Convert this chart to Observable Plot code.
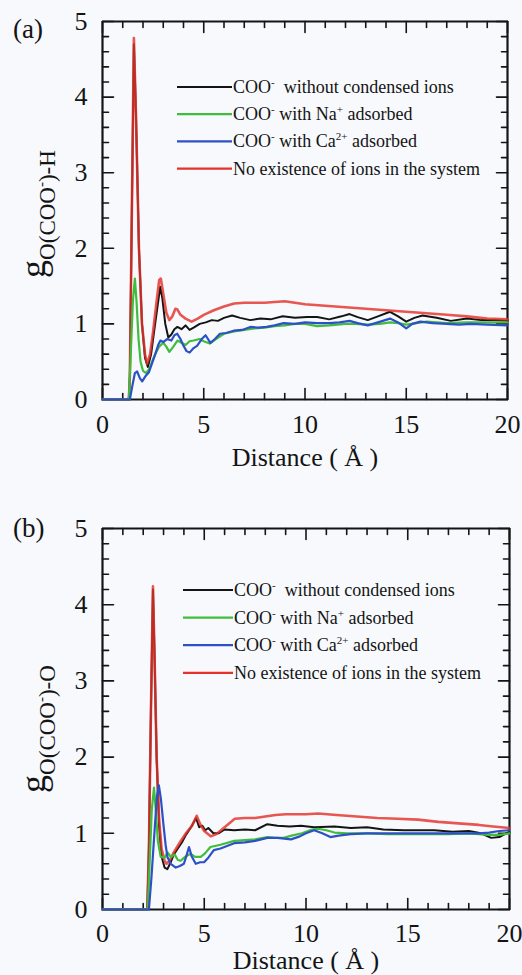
<!DOCTYPE html>
<html>
<head>
<meta charset="utf-8">
<script src="https://cdn.jsdelivr.net/npm/d3@7"></script>
<script src="https://cdn.jsdelivr.net/npm/@observablehq/plot@0.6"></script>
<style>
  html, body { margin: 0; padding: 0; background: #f7f9fc; overflow: hidden; }
  #chart svg { display: block; }
</style>
</head>
<body>
<div id="chart"></div>
<script>
// Radial distribution functions g(r) around carboxylate oxygen, r in Å.

// ---- Panel (a): O(COO-)–H ----
const aNoIons = [[0,0],[1.3,0],[1.35,0.3],[1.45,2.5],[1.55,4.78],[1.65,3.8],[1.8,2.0],[1.95,1.0],[2.1,0.6],[2.2,0.47],[2.35,0.6],[2.5,0.9],[2.65,1.25],[2.8,1.58],[2.88,1.6],[3.0,1.4],[3.15,1.15],[3.3,1.05],[3.45,1.1],[3.6,1.2],[3.7,1.19],[3.85,1.12],[4.1,1.07],[4.4,1.03],[4.7,1.07],[5.0,1.12],[5.5,1.18],[6.0,1.23],[6.5,1.27],[7.0,1.28],[7.5,1.28],[8.0,1.28],[8.5,1.29],[9.0,1.3],[9.5,1.28],[10,1.26],[11,1.24],[12,1.22],[13,1.2],[14,1.18],[15,1.16],[16,1.14],[17,1.12],[18,1.1],[19,1.07],[20,1.06]];
const aNoCondensed = [[0,0],[1.3,0],[1.35,0.3],[1.45,2.5],[1.55,4.7],[1.65,3.8],[1.8,2.0],[1.95,1.0],[2.1,0.55],[2.24,0.43],[2.4,0.6],[2.55,0.9],[2.7,1.2],[2.85,1.49],[2.95,1.35],[3.1,1.0],[3.25,0.82],[3.4,0.86],[3.55,0.93],[3.7,0.96],[3.9,0.93],[4.1,0.98],[4.3,0.92],[4.5,0.95],[4.8,1.0],[5.1,1.02],[5.4,1.05],[5.7,1.04],[6.0,1.08],[6.4,1.11],[6.8,1.08],[7.3,1.05],[7.8,1.07],[8.3,1.06],[8.9,1.1],[9.5,1.08],[10.1,1.09],[10.6,1.09],[11.2,1.06],[11.8,1.1],[12.2,1.13],[12.6,1.09],[13.1,1.05],[13.6,1.1],[14.2,1.16],[14.6,1.1],[15.0,1.03],[15.4,1.08],[15.8,1.11],[16.5,1.08],[17.2,1.04],[18.0,1.07],[18.7,1.05],[19.4,1.05],[20,1.04]];
const aNa = [[0,0],[1.3,0],[1.38,0.5],[1.5,1.3],[1.6,1.6],[1.68,1.3],[1.78,0.8],[1.88,0.5],[2.0,0.38],[2.15,0.35],[2.3,0.4],[2.45,0.5],[2.6,0.6],[2.8,0.7],[3.0,0.75],[3.15,0.7],[3.3,0.63],[3.5,0.7],[3.7,0.78],[3.9,0.75],[4.1,0.72],[4.3,0.77],[4.5,0.78],[4.8,0.8],[5.0,0.77],[5.3,0.74],[5.6,0.8],[6.0,0.87],[6.5,0.9],[7.0,0.92],[7.5,0.94],[8.0,0.95],[8.5,0.97],[9.0,0.98],[9.5,1.0],[10.0,1.0],[10.6,0.97],[11.2,0.98],[12,1.0],[12.5,1.0],[13.1,0.99],[13.7,1.0],[14.2,1.02],[14.6,1.01],[15.0,0.99],[15.5,1.01],[16,1.03],[17,1.01],[18,1.02],[19,1.02],[20,1.02]];
const aCa = [[0,0],[1.35,0],[1.46,0.16],[1.6,0.35],[1.71,0.37],[1.85,0.28],[1.96,0.24],[2.1,0.3],[2.29,0.36],[2.45,0.48],[2.62,0.61],[2.75,0.72],[2.86,0.78],[3.0,0.76],[3.19,0.8],[3.4,0.78],[3.55,0.85],[3.69,0.87],[3.85,0.8],[4.0,0.71],[4.15,0.64],[4.3,0.62],[4.5,0.68],[4.67,0.71],[4.9,0.8],[5.09,0.85],[5.33,0.75],[5.55,0.8],[5.8,0.87],[6.1,0.88],[6.48,0.91],[6.9,0.92],[7.3,0.96],[7.7,0.95],[8.1,0.96],[8.5,0.98],[8.95,1.01],[9.5,1.0],[10.0,1.02],[10.6,1.01],[11.2,1.01],[11.7,1.02],[12.2,1.04],[12.6,1.01],[13.1,0.98],[13.6,1.02],[14.2,1.07],[14.6,1.02],[15.0,0.94],[15.3,1.0],[15.7,1.03],[16.3,1.01],[17.0,1.0],[17.6,0.99],[18.2,1.0],[19,0.99],[20,0.98]];

// ---- Panel (b): O(COO-)–O ----
const bNoIons = [[0,0],[2.2,0],[2.28,0.8],[2.38,2.6],[2.48,4.24],[2.56,3.3],[2.66,2.0],[2.78,1.2],[2.9,0.8],[3.05,0.64],[3.15,0.6],[3.3,0.64],[3.5,0.75],[3.8,0.88],[4.1,1.0],[4.4,1.1],[4.63,1.23],[4.8,1.12],[5.0,1.03],[5.32,0.96],[5.6,0.99],[6.0,1.08],[6.5,1.19],[7.0,1.2],[7.5,1.2],[8.0,1.22],[8.5,1.24],[9.0,1.25],[10.0,1.25],[10.6,1.26],[11.5,1.24],[12.5,1.22],[13.5,1.2],[14.5,1.19],[15.5,1.18],[16.5,1.15],[17.5,1.13],[18.5,1.11],[19.2,1.09],[20,1.07]];
const bNoCondensed = [[0,0],[2.2,0],[2.28,0.8],[2.38,2.6],[2.48,4.2],[2.56,3.3],[2.66,2.0],[2.78,1.1],[2.9,0.7],[3.05,0.55],[3.19,0.53],[3.35,0.62],[3.5,0.72],[3.7,0.8],[3.9,0.88],[4.1,0.98],[4.35,1.08],[4.6,1.2],[4.75,1.08],[4.9,1.1],[5.05,1.04],[5.2,1.07],[5.45,1.0],[5.7,1.0],[6.0,1.05],[6.47,1.04],[7.0,1.05],[7.5,1.04],[8.1,1.12],[8.6,1.1],[9.2,1.09],[9.75,1.1],[10.4,1.08],[11.4,1.09],[12.2,1.07],[13.0,1.08],[13.8,1.05],[14.8,1.04],[15.6,1.04],[16.3,1.04],[17.2,1.02],[18.0,1.03],[18.6,1.0],[19.1,0.94],[19.5,0.95],[19.9,1.01],[20,1.01]];
const bNa = [[0,0],[2.22,0],[2.3,0.5],[2.42,1.3],[2.53,1.6],[2.62,1.3],[2.72,0.9],[2.86,0.69],[3.05,0.68],[3.2,0.75],[3.35,0.69],[3.55,0.72],[3.7,0.65],[3.84,0.64],[4.1,0.7],[4.33,0.73],[4.55,0.69],[4.83,0.69],[5.05,0.74],[5.3,0.82],[5.8,0.85],[6.47,0.9],[7.0,0.91],[7.5,0.92],[8.1,0.95],[8.5,0.94],[8.9,0.94],[9.3,0.97],[9.8,1.0],[10.3,1.05],[10.6,1.06],[11.0,1.04],[11.4,1.01],[12,1.0],[13,1.0],[14,0.99],[15,0.99],[16,0.99],[17,0.99],[18,1.0],[19,0.98],[19.5,0.98],[20,1.0]];
const bCa = [[0,0],[2.28,0],[2.4,0.4],[2.55,1.0],[2.68,1.5],[2.77,1.63],[2.87,1.45],[3.0,1.1],[3.1,0.85],[3.19,0.69],[3.35,0.6],[3.6,0.55],[3.8,0.57],[4.0,0.6],[4.12,0.7],[4.25,0.82],[4.38,0.7],[4.58,0.6],[4.8,0.62],[4.99,0.62],[5.2,0.68],[5.47,0.78],[5.8,0.8],[6.47,0.87],[7.0,0.88],[7.5,0.9],[8.1,0.94],[8.6,0.94],[9.26,0.92],[9.7,0.96],[10.0,1.0],[10.4,1.04],[10.8,1.0],[11.2,0.95],[11.6,0.97],[12.2,0.99],[13,1.0],[14,1.0],[15,1.0],[16,1.0],[17,1.0],[18,1.0],[18.5,1.0],[19,1.01],[19.5,1.03],[20,1.04]];

// ---- Axes ----
const xDomain = [0, 20];
const yDomain = [0, 5];
const xTicks = [0, 5, 10, 15, 20];
const xTickLabels = ["0", "5", "10", "15", "20"];
const yTicks = [0, 1, 2, 3, 4, 5];
const yTickLabels = ["0", "1", "2", "3", "4", "5"];
const xMinorTicks = d3.range(1, 20).filter(v => v % 5 !== 0);
const yMinorTicks = d3.range(1, 25).filter(v => v % 5 !== 0).map(v => v / 5);
const xLabel = "Distance ( Å )";

const colors = { noCondensed: "#141414", na: "#3fbd3c", ca: "#2d50c6", noIons: "#e3322a" };
const ink = "#141414";
const serif = "'Liberation Serif', 'Times New Roman', serif";

// legend rows: [colour key, text pieces]; a piece in an array is a superscript
const legendRows = [
  ["noCondensed", ["COO", ["-"], "\u00a0 without condensed ions"]],
  ["na", ["COO", ["-"], " with Na", ["+"], " adsorbed"]],
  ["ca", ["COO", ["-"], " with Ca", ["2+"], " adsorbed"]],
  ["noIons", ["No existence of ions in the system"]]
];

// Inward tick segments on all four sides of the box, as short two-point paths.
// Lengths are given in pixels and converted with the panel's units per pixel.
function tickSegments(innerW, innerH) {
  const ux = (xDomain[1] - xDomain[0]) / innerW;   // x units per pixel
  const uy = (yDomain[1] - yDomain[0]) / innerH;   // y units per pixel
  const segs = [];
  let k = 0;
  const add = (a, b) => { segs.push({ x: a[0], y: a[1], k }, { x: b[0], y: b[1], k }); k++; };
  const xt = (v, len) => {
    add([v, yDomain[0]], [v, yDomain[0] + len * uy]);
    add([v, yDomain[1]], [v, yDomain[1] - len * uy]);
  };
  const yt = (v, len) => {
    add([xDomain[0], v], [xDomain[0] + len * ux, v]);
    add([xDomain[1], v], [xDomain[1] - len * ux, v]);
  };
  xTicks.forEach(v => xt(v, 11));
  xMinorTicks.forEach(v => xt(v, 6));
  yTicks.forEach(v => yt(v, 11));
  yMinorTicks.forEach(v => yt(v, 6));
  return segs;
}
const boxCorners = [[xDomain[0], yDomain[0]], [xDomain[1], yDomain[0]], [xDomain[1], yDomain[1]], [xDomain[0], yDomain[1]], [xDomain[0], yDomain[0]]];

function panel(cfg) {
  const W = 522, left = 102;
  const innerW = W - left - cfg.right;
  const innerH = cfg.height - cfg.top - cfg.bottom;
  const line = (pts, key, w, opacity = 1) => Plot.line(pts, {
    x: d => d[0], y: d => d[1], stroke: colors[key], strokeWidth: w, strokeOpacity: opacity, strokeLinejoin: "round"
  });

  const svg = Plot.plot({
    width: W, height: cfg.height,
    marginLeft: left, marginRight: cfg.right, marginTop: cfg.top, marginBottom: cfg.bottom,
    style: { background: "transparent", fontFamily: serif, fontSize: "26px", color: ink, overflow: "visible" },
    x: { domain: xDomain },
    y: { domain: yDomain },
    marks: [
      Plot.line(tickSegments(innerW, innerH), { x: "x", y: "y", z: "k", stroke: ink, strokeWidth: 1.6 }),
      Plot.line(boxCorners, { x: d => d[0], y: d => d[1], stroke: ink, strokeWidth: 2.2, strokeLinejoin: "miter" }),
      line(cfg.noCondensed, "noCondensed", 2),
      line(cfg.noIons, "noIons", 2.6, 0.82),
      line(cfg.na, "na", 2.2),
      line(cfg.ca, "ca", 2.2),
      Plot.axisX(xTicks, { tickSize: 0, tickPadding: cfg.xPad, fontSize: 26, label: null, tickFormat: (d, i) => xTickLabels[i] }),
      Plot.axisY(yTicks, { tickSize: 0, tickPadding: 15, fontSize: 26, label: null, tickFormat: (d, i) => yTickLabels[i] }),
      Plot.text([xLabel], { text: d => d, frameAnchor: "bottom", dy: cfg.xLabelDy, fontSize: 26 })
    ]
  });

  const s = d3.select(svg);

  // panel tag
  s.append("text").attr("x", 13).attr("y", cfg.tagY).attr("text-anchor", "start")
    .attr("font-family", serif).attr("font-size", 27).attr("fill", ink).text(cfg.tag);

  // y-axis title g with subscript
  const yt = s.append("text")
    .attr("transform", `translate(45,${cfg.yTitleY}) rotate(-90)`)
    .attr("text-anchor", "middle").attr("font-family", serif).attr("fill", ink);
  yt.append("tspan").attr("font-size", 36).text("g");
  yt.append("tspan").attr("font-size", 23).attr("dy", 10).text("O(COO");
  yt.append("tspan").attr("font-size", 15).attr("dy", -9).text("-");
  yt.append("tspan").attr("font-size", 23).attr("dy", 9).text(")-" + cfg.partner);

  // legend
  legendRows.forEach(([key, pieces], i) => {
    const base = cfg.legendY + i * cfg.legendStep;
    s.append("line")
      .attr("x1", cfg.legendX0).attr("x2", cfg.legendX1)
      .attr("y1", base - 6).attr("y2", base - 6)
      .attr("stroke", colors[key]).attr("stroke-width", 2.2);
    const t = s.append("text").attr("x", cfg.legendX1 + 1).attr("y", base).attr("text-anchor", "start")
      .attr("font-family", serif).attr("font-size", 18).attr("fill", ink);
    let raised = false;
    pieces.forEach(p => {
      if (Array.isArray(p)) {
        t.append("tspan").attr("font-size", 11).attr("dy", -7).text(p[0]);
        raised = true;
      } else {
        const sp = t.append("tspan").text(p);
        if (raised) { sp.attr("dy", 7); raised = false; }
      }
    });
  });

  return svg;
}

const chart = document.getElementById("chart");
chart.append(panel({
  height: 480, top: 21, bottom: 81, right: 15,
  xPad: 15, xLabelDy: 66,
  noIons: aNoIons, noCondensed: aNoCondensed, na: aNa, ca: aCa,
  tag: "(a)", tagY: 38, partner: "H", yTitleY: 214,
  legendX0: 177, legendX1: 232, legendY: 93, legendStep: 27.2
}));
chart.append(panel({
  height: 495, top: 48, bottom: 66, right: 13,
  xPad: 14, xLabelDy: 59,
  noIons: bNoIons, noCondensed: bNoCondensed, na: bNa, ca: bCa,
  tag: "(b)", tagY: 57, partner: "O", yTitleY: 249,
  legendX0: 183, legendX1: 233, legendY: 116, legendStep: 27.6
}));
</script>
</body>
</html>
